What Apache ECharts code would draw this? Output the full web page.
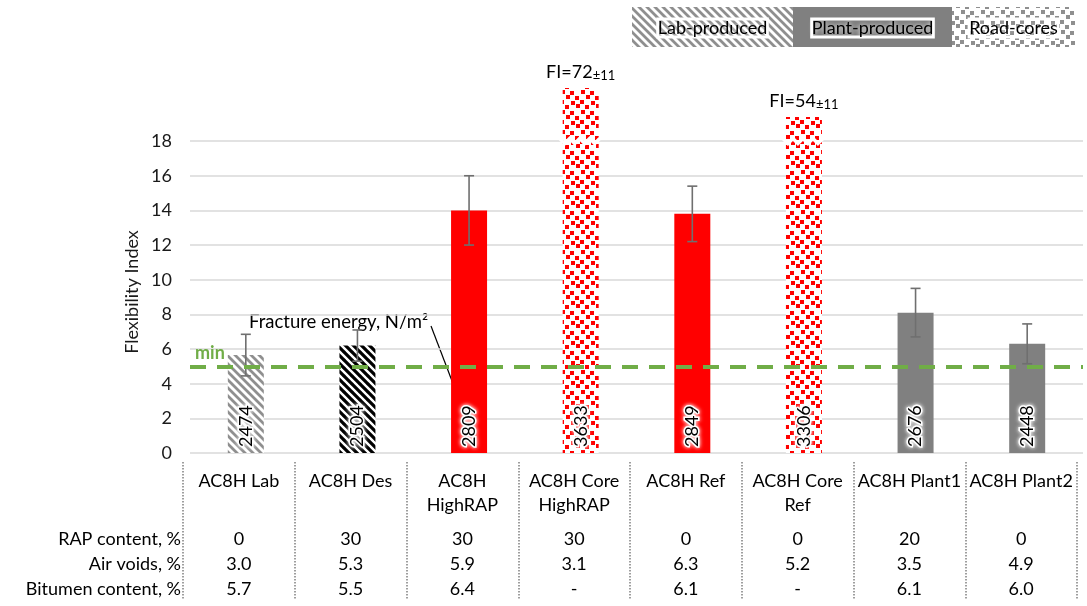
<!DOCTYPE html>
<html>
<head>
<meta charset="utf-8">
<script src="https://cdn.jsdelivr.net/npm/echarts@6/dist/echarts.min.js"></script>
<style>
  html, body { margin: 0; padding: 0; background: #fff; }
  #chart { width: 1087px; height: 606px; }
</style>
</head>
<body>
<div id="chart"></div>
<script>
// ---- data ----
const categories = ['AC8H Lab', 'AC8H Des', 'AC8H\nHighRAP', 'AC8H Core\nHighRAP', 'AC8H Ref', 'AC8H Core\nRef', 'AC8H Plant1', 'AC8H Plant2'];
const flexibilityIndex = [5.65, 6.2, 14.0, 72, 13.8, 54, 8.1, 6.3];
const flexibilityError = [1.2, 0.9, 2.0, 11, 1.6, 11, 1.4, 1.15];
const fractureEnergy = [2474, 2504, 2809, 3633, 2849, 3306, 2676, 2448];
const fillKind = ['labGray', 'labBlack', 'red', 'core', 'red', 'core', 'plant', 'plant'];
const rapContent = ['0', '30', '30', '30', '0', '0', '20', '0'];
const airVoids = ['3.0', '5.3', '5.9', '3.1', '6.3', '5.2', '3.5', '4.9'];
const bitumenContent = ['5.7', '5.5', '6.4', '-', '6.1', '-', '6.1', '6.0'];
const tableRowNames = ['RAP content, %', 'Air voids, %', 'Bitumen content, %'];
const yTickLabels = ['0', '2', '4', '6', '8', '10', '12', '14', '16', '18'];
const minFlexibility = 5;
const legendNames = ['Lab-produced', 'Plant-produced', 'Road-cores'];

const FONT = 'Lato';
const isCore = fillKind.map(k => k === 'core');
const yTickValues = yTickLabels.map(Number);
const lastGridValue = yTickValues[yTickValues.length - 1];

// ---- fill patterns ----
function stripeTile(color, width) {
  const c = document.createElement('canvas');
  c.width = 8; c.height = 8;
  const g = c.getContext('2d');
  g.fillStyle = '#fff';
  g.fillRect(0, 0, 8, 8);
  g.strokeStyle = color;
  g.lineWidth = width;
  g.beginPath();
  for (const k of [-8, 0, 8]) {
    g.moveTo(k - 1, -1);
    g.lineTo(k + 9, 9);
  }
  g.stroke();
  return c;
}
function confettiTile(color) {
  const c = document.createElement('canvas');
  c.width = 20; c.height = 20;
  const g = c.getContext('2d');
  g.fillStyle = '#fff';
  g.fillRect(0, 0, 20, 20);
  g.fillStyle = color;
  [[0, 0], [11, 1], [5, 5], [16, 4], [1, 10], [10, 11], [6, 15], [15, 16]]
    .forEach(([x, y]) => g.fillRect(x, y, 4, 4));
  return c;
}
const pattern = img => ({ image: img, repeat: 'repeat' });
const fills = {
  labGray: pattern(stripeTile('#8f8f8f', 2.8)),
  labBlack: pattern(stripeTile('#000', 3.2)),
  red: '#ff0000',
  core: pattern(confettiTile('#ff0000')),
  plant: '#808080'
};
const legendFills = [pattern(stripeTile('#8f8f8f', 2.8)), '#808080', pattern(confettiTile('#8f8f8f'))];

const halo = { textBorderColor: '#fff', textBorderWidth: 3, textShadowColor: '#fff', textShadowBlur: 4 };

// ---- table axes (second grid) ----
function tableAxis(labels, rowOffset, name) {
  return {
    type: 'category', gridIndex: 1, position: 'top', offset: -rowOffset,
    data: categories,
    axisLine: { show: false }, axisTick: { show: false },
    axisLabel: {
      interval: 0, margin: 0, verticalAlign: 'middle', fontSize: 18, color: '#000', fontFamily: FONT,
      formatter: (v, i) => labels[i]
    },
    splitLine: { show: false },
    name: name, nameLocation: 'start', nameGap: 2,
    nameTextStyle: { fontSize: 18, color: '#000', fontFamily: FONT, align: 'right', verticalAlign: 'middle' }
  };
}

const chart = echarts.init(document.getElementById('chart'), null, { renderer: 'canvas' });

const option = {
  animation: false,
  textStyle: { fontFamily: FONT },
  grid: [
    { left: 190, right: 4, top: 88, bottom: 153 },
    { left: 183, right: 10, top: 462, bottom: 6 }
  ],
  xAxis: [
    {
      type: 'category', gridIndex: 0, data: categories,
      axisLine: { show: false }, axisTick: { show: false }, axisLabel: { show: false }
    },
    {
      type: 'category', gridIndex: 1, position: 'top', offset: -7, data: categories,
      axisLine: { show: false }, axisTick: { show: false },
      axisLabel: { interval: 0, margin: 0, verticalAlign: 'top', lineHeight: 24, fontSize: 18, color: '#000', fontFamily: FONT },
      splitLine: { show: true, lineStyle: { color: '#7f7f7f', width: 1.5, type: [1.5, 1.5] } }
    },
    tableAxis(rapContent, 77, tableRowNames[0]),
    tableAxis(airVoids, 102, tableRowNames[1]),
    tableAxis(bitumenContent, 127, tableRowNames[2])
  ],
  yAxis: [
    {
      // broken value axis: the road-core values sit above two compressed spans
      type: 'value', gridIndex: 0, min: 0, max: 72,
      breaks: [
        { start: 18.7, end: 53.4, gap: '1.29%' },
        { start: 53.8, end: 71.9, gap: '7.56%' }
      ],
      breakArea: { show: false },
      axisLine: { show: false },
      axisTick: { show: false, customValues: yTickValues },
      axisLabel: {
        customValues: yTickValues,
        margin: 18, fontSize: 18, color: '#1a1a1a', fontFamily: FONT
      },
      splitLine: { show: true, lineStyle: { color: '#d9d9d9', width: 1.5 } }
    },
    { type: 'value', gridIndex: 1, show: false, min: 0, max: 1 }
  ],
  series: [
    {
      name: 'Flexibility Index',
      type: 'bar', xAxisIndex: 0, yAxisIndex: 0, barWidth: 36,
      data: flexibilityIndex.map((v, i) => ({ value: v, itemStyle: { color: fills[fillKind[i]] } })),
      label: Object.assign({
        show: true, position: 'insideBottom', rotate: 90, align: 'left', verticalAlign: 'middle',
        distance: 6, fontSize: 18, color: '#000', fontFamily: FONT,
        formatter: p => String(fractureEnergy[p.dataIndex])
      }, halo),
      markLine: {
        silent: true, symbol: 'none', animation: false,
        data: [{ yAxis: minFlexibility }],
        lineStyle: { color: '#70ad47', width: 4, type: [16, 11] },
        label: { formatter: 'min', position: 'insideStartTop', color: '#70ad47', fontWeight: 'bold', fontSize: 18, fontFamily: FONT, distance: [5, 4] }
      }
    },
    {
      name: 'error',
      type: 'custom', xAxisIndex: 0, yAxisIndex: 0, z: 4,
      data: flexibilityIndex.map((v, i) => [i, v, flexibilityError[i]]).filter((d, i) => !isCore[i]),
      renderItem(params, api) {
        const x = api.value(0), v = api.value(1), e = api.value(2);
        const top = api.coord([x, v + e]);
        const bot = api.coord([x, v - e]);
        const cap = 5;
        const style = { stroke: '#6f6f6f', lineWidth: 1.6 };
        return {
          type: 'group',
          children: [
            { type: 'line', shape: { x1: top[0], y1: top[1], x2: bot[0], y2: bot[1] }, style },
            { type: 'line', shape: { x1: top[0] - cap, y1: top[1], x2: top[0] + cap, y2: top[1] }, style },
            { type: 'line', shape: { x1: bot[0] - cap, y1: bot[1], x2: bot[0] + cap, y2: bot[1] }, style }
          ]
        };
      }
    },
    {
      name: 'road cores',
      type: 'custom', xAxisIndex: 0, yAxisIndex: 0, z: 5,
      data: flexibilityIndex.map((v, i) => [i, v, flexibilityError[i]]).filter((d, i) => isCore[i]),
      renderItem(params, api) {
        const x = api.value(0), v = api.value(1), e = api.value(2);
        const top = api.coord([x, v]);
        const cut = api.coord([x, lastGridValue]);
        // white wavy break mark where the bar crosses the last gridline
        const pts = [];
        for (let k = -21, n = 0; k <= 22; k += 5, n++) {
          pts.push([cut[0] + k, cut[1] + (n % 2 ? 2.5 : -2.5)]);
        }
        return {
          type: 'group',
          children: [
            { type: 'polyline', shape: { points: pts }, style: { stroke: '#fff', lineWidth: 3.5, fill: null } },
            {
              type: 'text', x: top[0], y: top[1] - 6,
              style: {
                text: '{v|FI=' + v + '}{e|±' + e + '}',
                align: 'center', verticalAlign: 'bottom', fill: '#000',
                rich: {
                  v: { fontSize: 18, fontFamily: FONT, fill: '#000' },
                  e: { fontSize: 13, fontFamily: FONT, fill: '#000', padding: [6, 0, 0, 0] }
                }
              }
            }
          ]
        };
      }
    }
  ],
  graphic: [
    {
      type: 'text', x: 132, y: 292, rotation: Math.PI / 2,
      style: { text: 'Flexibility Index', fontSize: 18, fontFamily: FONT, fill: '#1a1a1a', align: 'center', verticalAlign: 'middle' }
    },
    {
      type: 'text', x: 249, y: 322,
      style: { text: 'Fracture energy, N/m²', fontSize: 18.5, fontFamily: FONT, fill: '#000', align: 'left', verticalAlign: 'middle' }
    },
    {
      type: 'line', shape: { x1: 431, y1: 326, x2: 457, y2: 394 },
      style: { stroke: '#000', lineWidth: 1.2 }
    }
  ]
};

// legend strip: three adjoining swatches with their names
const legendBoxes = [[632, 161], [793, 159], [952, 123]];
legendBoxes.forEach(([x, w], i) => {
  option.graphic.push({
    type: 'rect', shape: { x: x, y: 7, width: w, height: 40 },
    style: { fill: legendFills[i] }, z: 1
  });
  option.graphic.push({
    type: 'text', x: x + w / 2, y: 28, z: 2,
    style: Object.assign({ text: legendNames[i], fontSize: 18, fontFamily: FONT, fill: '#000', align: 'center', verticalAlign: 'middle' }, halo)
  });
});

chart.setOption(option);
</script>
</body>
</html>
